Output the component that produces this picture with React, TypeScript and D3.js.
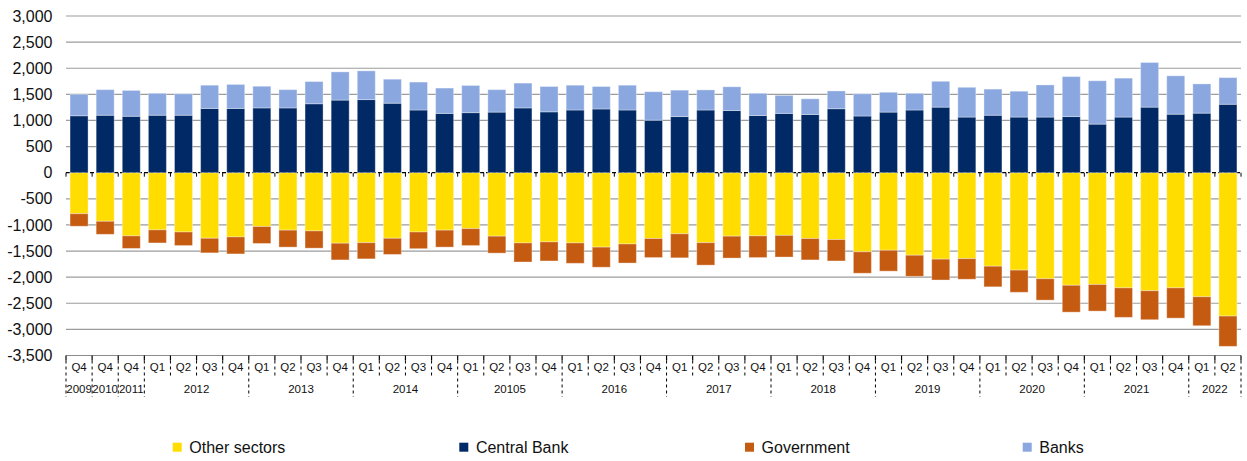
import React from "react";
import * as d3 from "d3";

const quarterLabels = [
  "Q4", "Q4", "Q4",
  "Q1", "Q2", "Q3", "Q4",
  "Q1", "Q2", "Q3", "Q4",
  "Q1", "Q2", "Q3", "Q4",
  "Q1", "Q2", "Q3", "Q4",
  "Q1", "Q2", "Q3", "Q4",
  "Q1", "Q2", "Q3", "Q4",
  "Q1", "Q2", "Q3", "Q4",
  "Q1", "Q2", "Q3", "Q4",
  "Q1", "Q2", "Q3", "Q4",
  "Q1", "Q2", "Q3", "Q4",
  "Q1", "Q2",
];
const yearLabels = ["2009", "2010", "2011", "2012", "2013", "2014", "20105", "2016", "2017", "2018", "2019", "2020", "2021", "2022"];
const yearCounts = [1, 1, 1, 4, 4, 4, 4, 4, 4, 4, 4, 4, 4, 2];

const centralBank = [1090, 1100, 1080, 1100, 1100, 1230, 1230, 1240, 1240, 1320, 1390, 1400, 1330, 1200, 1135, 1150, 1160, 1240, 1165, 1200, 1220, 1200, 1005, 1075, 1200, 1190, 1095, 1135, 1115, 1225, 1085, 1160, 1200, 1255, 1065, 1100, 1065, 1065, 1075, 930, 1065, 1255, 1120, 1140, 1310];
const banks = [410, 490, 495, 420, 410, 445, 460, 415, 350, 425, 540, 550, 460, 535, 485, 520, 430, 475, 485, 475, 430, 475, 545, 505, 385, 455, 425, 345, 300, 340, 425, 380, 320, 495, 570, 500, 495, 615, 765, 830, 745, 855, 735, 560, 510];
const otherSectors = [-785, -930, -1210, -1095, -1135, -1255, -1230, -1030, -1100, -1115, -1350, -1340, -1255, -1135, -1100, -1070, -1215, -1345, -1325, -1345, -1425, -1365, -1260, -1170, -1340, -1215, -1210, -1200, -1260, -1280, -1515, -1485, -1580, -1655, -1645, -1790, -1865, -2030, -2155, -2140, -2205, -2260, -2205, -2375, -2745];
const government = [-240, -250, -240, -250, -260, -280, -325, -325, -325, -330, -320, -310, -310, -320, -325, -325, -325, -365, -365, -390, -385, -365, -365, -460, -430, -420, -415, -415, -410, -410, -410, -400, -405, -400, -395, -395, -425, -410, -515, -510, -565, -555, -580, -555, -580];

const yTicks = [3000, 2500, 2000, 1500, 1000, 500, 0, -500, -1000, -1500, -2000, -2500, -3000, -3500];

const seriesKeys = ["otherSectors", "centralBank", "government", "banks"];
const seriesNames: Record<string, string> = {
  otherSectors: "Other sectors",
  centralBank: "Central Bank",
  government: "Government",
  banks: "Banks",
};
const colors: Record<string, string> = {
  otherSectors: "#FFDD00",
  centralBank: "#002966",
  government: "#C55A11",
  banks: "#8AA7DF",
};

const W = 1247;
const H = 461;
const left = 66;
const right = 1241;
const top = 16;
const bottom = 355.5;
const FONT = "'Liberation Sans', Arial, sans-serif";

export default function App() {
  const rows = quarterLabels.map((q, i) => ({
    idx: String(i),
    otherSectors: otherSectors[i],
    centralBank: centralBank[i],
    government: government[i],
    banks: banks[i],
  }));

  const x = d3
    .scaleBand<string>()
    .domain(rows.map((r) => r.idx))
    .range([left, right])
    .paddingInner(0.31)
    .paddingOuter(0.155);
  const y = d3.scaleLinear().domain([-3500, 3000]).range([bottom, top]);

  const stack = d3
    .stack<any>()
    .keys(seriesKeys)
    .offset(d3.stackOffsetDiverging);
  const stacked = stack(rows);

  const fmt = d3.formatLocale({
    decimal: ".",
    thousands: ",",
    grouping: [3],
    currency: ["", ""],
    minus: "-",
  }).format(",");

  const step = x.step();
  const boundary = (i: number) => left + i * step;

  // year boundaries
  const yearBounds: number[] = [0];
  yearCounts.reduce((acc, c) => {
    yearBounds.push(acc + c);
    return acc + c;
  }, 0);
  const yearSet = new Set(yearBounds);

  const legendX = [172.7, 459.3, 745, 1022.7];
  const legendOrder = ["otherSectors", "centralBank", "government", "banks"];

  return (
    <svg
      width={W}
      height={H}
      style={{ position: "absolute", left: 0, top: 0, background: "#fff" }}
      fontFamily={FONT}
    >
      {/* gridlines */}
      {yTicks.filter((t) => t !== 0).map((t) => (
        <line key={t} x1={left} x2={right} y1={y(t)} y2={y(t)} stroke="#9c9c9c" strokeWidth={1.2} />
      ))}
      {/* zero line dashed */}
      <line x1={left} x2={right} y1={y(0)} y2={y(0)} stroke="#000" strokeWidth={1.2} strokeDasharray="4,2" />
      {d3.range(quarterLabels.length + 1).map((i) => (
        <line key={"zt" + i} x1={boundary(i)} x2={boundary(i)} y1={y(0)} y2={y(0) + 4} stroke="#000" strokeWidth={1} />
      ))}
      {/* y labels */}
      {yTicks.map((t) => (
        <text key={"yl" + t} x={52.5} y={y(t)} dy="0.35em" textAnchor="end" fontSize={16} fill="#111">
          {fmt(t)}
        </text>
      ))}
      {/* bars */}
      {stacked.map((s) => (
        <g key={s.key} fill={colors[s.key]}>
          {s.map((d, i) => (
            <rect
              key={i}
              x={x(String(i))!}
              width={x.bandwidth()}
              y={y(Math.max(d[0], d[1]))}
              height={Math.abs(y(d[0]) - y(d[1]))}
              stroke="rgba(255,255,255,0.35)"
              strokeWidth={1}
            />
          ))}
        </g>
      ))}
      {/* bottom axis */}
      <line x1={left} x2={right} y1={bottom} y2={bottom} stroke="#8c8c8c" strokeWidth={1.2} />
      {d3.range(quarterLabels.length + 1).map((i) => {
        const bx = boundary(i);
        const isYear = yearSet.has(i);
        return (
          <g key={"sep" + i}>
            <line x1={bx} x2={bx} y1={bottom} y2={bottom + 5} stroke="#000" strokeWidth={1.2} />
            <line
              x1={bx}
              x2={bx}
              y1={bottom + 5}
              y2={isYear ? 397 : 376}
              stroke="#000"
              strokeWidth={1}
              strokeDasharray="3,3"
            />
          </g>
        );
      })}
      {quarterLabels.map((q, i) => (
        <text key={"q" + i} x={x(String(i))! + x.bandwidth() / 2} y={371} textAnchor="middle" fontSize={11.5} fill="#111">
          {q}
        </text>
      ))}
      {yearLabels.map((yl, k) => {
        const cx = (boundary(yearBounds[k]) + boundary(yearBounds[k + 1])) / 2;
        return (
          <text key={"y" + k} x={cx} y={392.5} textAnchor="middle" fontSize={11.5} fill="#111">
            {yl}
          </text>
        );
      })}
      {/* legend */}
      {legendOrder.map((k, i) => (
        <g key={"lg" + k}>
          <rect x={legendX[i]} y={442.7} width={9} height={9} fill={colors[k]} />
          <text x={legendX[i] + 16.6} y={452.5} fontSize={16} fill="#111">
            {seriesNames[k]}
          </text>
        </g>
      ))}
    </svg>
  );
}
